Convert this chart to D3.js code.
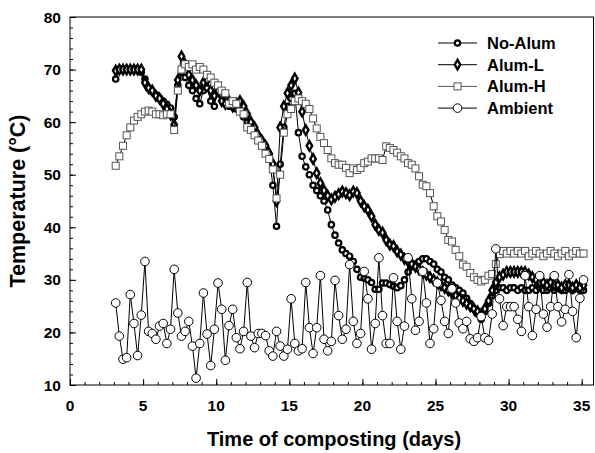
<!DOCTYPE html>
<html>
<head>
<meta charset="utf-8">
<script src="https://cdn.jsdelivr.net/npm/d3@7"></script>
<style>
  body { margin: 0; background: #fff; }
  text { font-family: Arial, "Liberation Sans", sans-serif; font-weight: bold; }
</style>
</head>
<body>
<div id="chart"></div>
<script>
// sampling times (days), every 6 h
const days = [
  3.125, 3.375, 3.625, 3.875, 4.125, 4.375, 4.625, 4.875,
  5.125, 5.375, 5.625, 5.875, 6.125, 6.375, 6.625, 6.875,
  7.125, 7.375, 7.625, 7.875, 8.125, 8.375, 8.625, 8.875,
  9.125, 9.375, 9.625, 9.875, 10.125, 10.375, 10.625, 10.875,
  11.125, 11.375, 11.625, 11.875, 12.125, 12.375, 12.625, 12.875,
  13.125, 13.375, 13.625, 13.875, 14.125, 14.375, 14.625, 14.875,
  15.125, 15.375, 15.625, 15.875, 16.125, 16.375, 16.625, 16.875,
  17.125, 17.375, 17.625, 17.875, 18.125, 18.375, 18.625, 18.875,
  19.125, 19.375, 19.625, 19.875, 20.125, 20.375, 20.625, 20.875,
  21.125, 21.375, 21.625, 21.875, 22.125, 22.375, 22.625, 22.875,
  23.125, 23.375, 23.625, 23.875, 24.125, 24.375, 24.625, 24.875,
  25.125, 25.375, 25.625, 25.875, 26.125, 26.375, 26.625, 26.875,
  27.125, 27.375, 27.625, 27.875, 28.125, 28.375, 28.625, 28.875,
  29.125, 29.375, 29.625, 29.875, 30.125, 30.375, 30.625, 30.875,
  31.125, 31.375, 31.625, 31.875, 32.125, 32.375, 32.625, 32.875,
  33.125, 33.375, 33.625, 33.875, 34.125, 34.375, 34.625, 34.875,
  35.125
]

const noAlum = [
  68.2, 70, 70, 70, 70, 70, 70, 69.5,
  68.2, 66.4, 65.8, 65.2, 64.6, 64, 63.4, 62.7,
  61, 67, 69.5, 68.5, 67, 66, 64.5, 63.5,
  66, 66.5, 64, 63, 67, 65, 63.5, 63,
  64, 62.5, 62, 61, 60, 59, 58, 57,
  56, 55, 53.5, 48, 40.2, 52, 59, 63,
  64.5, 65.5, 58, 53.5, 51.5, 50, 48, 47,
  46, 45, 43.3, 40.5, 38.5, 37, 35.7, 35,
  34.5, 33.5, 32, 30.5, 30.3, 30, 29.5, 28.2,
  28.2, 29.4, 29.4, 29.1, 28.8, 28.5, 28.9, 30,
  31.5, 32.5, 33, 33.5, 34, 34, 33.5, 33,
  32, 31.5, 30.5, 30, 29, 28.5, 28, 27.5,
  26.5, 25.5, 24.5, 23.5, 22.5, 24, 25.5, 27,
  28, 28.5, 28.5, 28, 28.5, 28.5, 28, 28.5,
  28, 28, 28.5, 28, 28.5, 28, 28, 28.5,
  28, 28.5, 28, 28, 28.5, 28, 28.5, 28,
  28
]

const alumL = [
  69.8, 70, 70, 70, 70, 70, 70, 70,
  67.5, 66.5, 66, 65, 64.5, 63.5, 62.5, 61.5,
  59.5, 68, 72.5, 71, 69, 68, 67, 66,
  67.5, 68, 66, 65, 66, 64, 63.5, 64,
  63, 63.5, 64, 63, 61.5, 60, 59, 57.5,
  56.5, 55.5, 54, 52, 45, 59, 63, 65.5,
  67, 68.3, 65.6, 62, 58.5, 55.5, 53, 50.3,
  48.4, 47, 46, 45.3, 45.8, 46.3, 46.8, 46.5,
  46.1, 46.8, 46.5, 45, 44, 43.3, 42.1, 40.5,
  39.5, 39, 37.6, 36.7, 36.4, 35.4, 34.8, 34,
  33.5, 33, 32.5, 32, 31.5, 31, 30.5, 30,
  29.5, 29, 28.5, 28, 27.5, 27, 26.5, 26,
  25.5, 25, 24.5, 24, 23.5, 24.5, 26, 28,
  29.5, 30.5, 31, 31.5, 31.5, 31.5, 31.5, 31.5,
  31.5, 31, 30.5, 30, 29.5, 29.5, 29, 29.5,
  29, 29, 28.5, 29, 29, 28.5, 29, 28.5,
  29
]

const alumH = [
  51.7, 53.5, 55.5, 57.5, 59, 60.3, 61, 61.5,
  62, 62.2, 62, 61.5, 61.5, 61.3, 61.5, 61.5,
  58.5, 66, 70, 71, 70.5, 71, 70, 70.5,
  70, 69, 68.5, 67.5, 67, 66, 65.5, 63.5,
  64, 63.5, 62, 61.5, 59, 58.5, 57.5, 56.5,
  55.5, 54, 53, 51, 45.5, 50, 58, 61.5,
  62.5, 64, 64.5, 64, 63.5, 62.5, 60.7, 58.8,
  57.2, 56, 54.7, 53.1, 52.2, 51.9, 51.9, 51.3,
  50.3, 51.2, 50.9, 51.3, 52.2, 52.5, 53.1, 53.1,
  53.1, 52.8, 55.4, 55.1, 54.7, 54.2, 53.5, 53.1,
  52.2, 51.9, 51.2, 49.7, 48.1, 47.8, 46.5, 44,
  42.1, 41.1, 39.5, 37.6, 37.3, 35.7, 34.5, 32.9,
  32.5, 31.3, 30.5, 30, 29.7, 30, 30.8, 31.1,
  33, 34.9, 35.5, 35, 35.5, 35, 35.5, 35,
  35.5, 34.5, 35, 35.5, 35, 34.5, 35, 35.5,
  35, 34.5, 35, 35.5, 34.5, 35, 35.5, 35,
  35
]

const ambient = [
  25.6, 19.3, 14.9, 15.2, 27.2, 21.7, 15.6, 23.3,
  33.5, 20.2, 19.8, 18.7, 21.2, 21.7, 17.9, 20.6,
  32.0, 23.7, 19.3, 20.2, 22.1, 17.4, 11.3, 17.9,
  27.5, 19.7, 13.7, 20.6, 29.4, 24.4, 14.7, 21.3,
  24.4, 19.0, 16.9, 20.2, 29.5, 19.3, 17.1, 19.8,
  19.8, 19.4, 16.5, 15.5, 20.2, 17.4, 15.5, 16.8,
  26.4, 17.9, 16.5, 16.9, 29.5, 20.9, 16.0, 20.9,
  30.8, 18.7, 16.5, 18.3, 29.9, 23.2, 18.7, 20.6,
  32.9, 22.1, 17.9, 19.8, 31.6, 26.4, 16.8, 21.7,
  34.2, 23.2, 17.9, 17.9, 30.4, 22.1, 16.8, 21.2,
  34.2, 26.4, 20.4, 22.1, 31.6, 25.6, 17.9, 20.7,
  29.4, 26.1, 22.1, 19.8, 28.3, 25.6, 21.8, 20.7,
  22.1, 18.8, 18.3, 19.0, 23.0, 19.0, 18.5, 23.5,
  35.9, 26.4, 21.3, 24.9, 24.9, 24.9, 22.5, 20.2,
  30.8, 24.9, 19.4, 24.4, 30.8, 23.5, 21.0, 24.9,
  30.8, 24.9, 22.0, 24.4, 31.0, 24.0, 19.0, 26.5,
  30.0
]

const seriesNames = ['No-Alum', 'Alum-L', 'Alum-H', 'Ambient']
const xTicks = [0, 5, 10, 15, 20, 25, 30, 35]
const yTicks = [10, 20, 30, 40, 50, 60, 70, 80]

const width = 595
const height = 453
const margin = { top: 17, right: 1, bottom: 68, left: 70 }
const xMax = 35.84

const x = d3.scaleLinear()
  .domain([0, xMax])
  .range([margin.left, width - margin.right])

const y = d3.scaleLinear()
  .domain([10, 80])
  .range([height - margin.bottom, margin.top])

const svg = d3.select('#chart').append('svg')
  .attr('width', width)
  .attr('height', height)

// frame
svg.append('rect')
  .attr('x', x(0))
  .attr('y', y(80))
  .attr('width', x(xMax) - x(0) - 0.5)
  .attr('height', y(10) - y(80))
  .attr('fill', 'none')
  .attr('stroke', '#000')
  .attr('stroke-width', 1)

// minor ticks
svg.append('g')
  .attr('transform', `translate(0,${y(10)})`)
  .call(d3.axisTop(x).tickValues(d3.range(1, 36)).tickSize(3).tickFormat(''))
  .call(g => g.select('.domain').remove())

svg.append('g')
  .attr('transform', `translate(${x(0)},0)`)
  .call(d3.axisRight(y).tickValues(d3.range(12, 80, 2)).tickSize(3).tickFormat(''))
  .call(g => g.select('.domain').remove())

// major ticks + labels
svg.append('g')
  .attr('transform', `translate(0,${y(10)})`)
  .call(d3.axisTop(x).tickValues(xTicks).tickSize(6).tickFormat(''))
  .call(g => g.select('.domain').remove())

svg.append('g')
  .attr('transform', `translate(${x(0)},0)`)
  .call(d3.axisRight(y).tickValues(yTicks).tickSize(6).tickFormat(''))
  .call(g => g.select('.domain').remove())

svg.append('g').selectAll('text')
  .data(xTicks).enter()
  .append('text')
  .attr('x', d => x(d))
  .attr('y', y(10) + 26)
  .attr('text-anchor', 'middle')
  .attr('font-size', 15.5)
  .text(d => d)

svg.append('g').selectAll('text')
  .data(yTicks).enter()
  .append('text')
  .attr('x', x(0) - 9)
  .attr('y', d => y(d) + 5.5)
  .attr('text-anchor', 'end')
  .attr('font-size', 15.5)
  .text(d => d)

svg.append('text')
  .attr('x', (x(0) + x(xMax)) / 2 + 2)
  .attr('y', 446)
  .attr('text-anchor', 'middle')
  .attr('font-size', 20)
  .text('Time of composting (days)')

svg.append('text')
  .attr('transform', `translate(25,${(y(10) + y(80)) / 2}) rotate(-90)`)
  .attr('text-anchor', 'middle')
  .attr('font-size', 21.5)
  .text('Temperature (°C)')

const line = d3.line()
  .x((d, i) => x(days[i]))
  .y(d => y(d))

const markers = {
  'No-Alum': g => g.append('circle').attr('r', 2.7).attr('fill', '#fff').attr('stroke', '#000').attr('stroke-width', 2.2),
  'Alum-L': g => g.append('path').attr('d', d3.symbol(d3.symbolDiamond, 26)()).attr('fill', '#fff').attr('stroke', '#000').attr('stroke-width', 2.4),
  'Alum-H': g => g.append('rect').attr('x', -3.5).attr('y', -3.5).attr('width', 7).attr('height', 7).attr('fill', '#fff').attr('stroke', '#555').attr('stroke-width', 1),
  'Ambient': g => g.append('circle').attr('r', 4.3).attr('fill', '#fff').attr('stroke', '#000').attr('stroke-width', 1)
}

const series = [
  { name: 'No-Alum', values: noAlum },
  { name: 'Alum-L', values: alumL },
  { name: 'Alum-H', values: alumH },
  { name: 'Ambient', values: ambient }
]

series.forEach(s => {
  svg.append('path')
    .datum(s.values)
    .attr('fill', 'none')
    .attr('stroke', '#000')
    .attr('stroke-width', 1)
    .attr('d', line)

  svg.append('g').selectAll('g')
    .data(s.values).enter()
    .append('g')
    .attr('transform', (d, i) => `translate(${x(days[i])},${y(d)})`)
    .each(function () { markers[s.name](d3.select(this)) })
})

// legend
const legend = svg.append('g')
seriesNames.forEach((name, i) => {
  const ly = 43 + i * 21.7
  legend.append('line')
    .attr('x1', 438).attr('x2', 477)
    .attr('y1', ly).attr('y2', ly)
    .attr('stroke', name === 'Alum-H' ? '#555' : '#000').attr('stroke-width', 1)
  const m = legend.append('g').attr('transform', `translate(457.5,${ly})`)
  markers[name](m)
  legend.append('text')
    .attr('x', 487)
    .attr('y', ly + 6)
    .attr('font-size', 16.5)
    .text(name)
})
</script>
</body>
</html>
